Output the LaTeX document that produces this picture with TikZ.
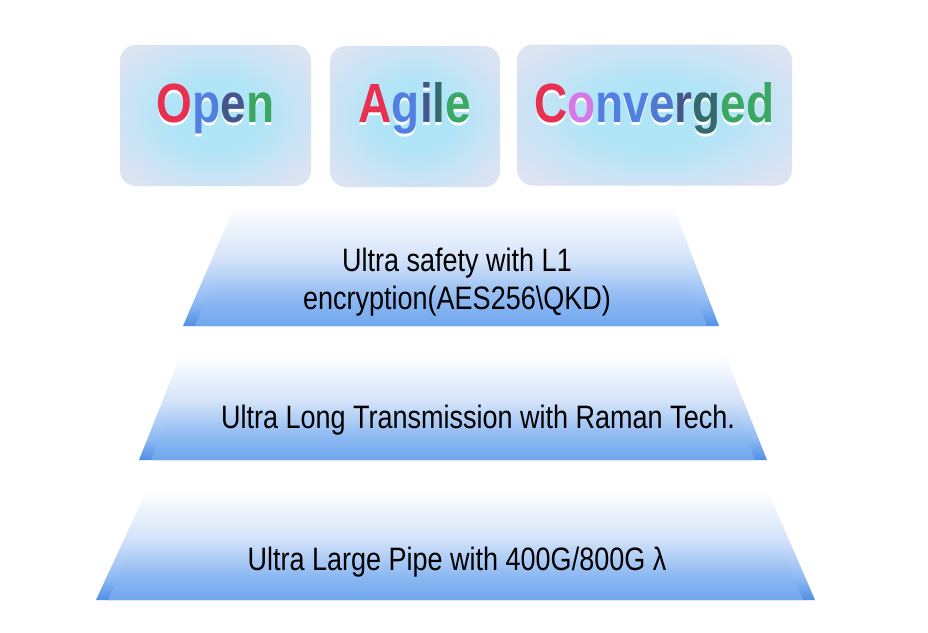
\documentclass[tikz,border=0pt]{standalone}
\usepackage{fontspec}
\setmainfont{Liberation Sans}
\definecolor{layerdark}{RGB}{80,143,230}
\definecolor{layermid}{RGB}{140,184,242}
\definecolor{layerlight}{RGB}{212,227,249}
\definecolor{layerin}{RGB}{112,167,238}
\definecolor{boxin}{RGB}{176,228,247}
\definecolor{boxout}{RGB}{220,227,243}
\definecolor{wred}{RGB}{232,48,80}
\definecolor{wpink}{RGB}{214,120,230}
\definecolor{wblue}{RGB}{82,128,226}
\definecolor{wnavy}{RGB}{68,86,140}
\definecolor{wteal}{RGB}{52,106,110}
\definecolor{wgreen}{RGB}{58,168,100}
\pgfdeclareverticalshading{layershade}{100bp}{color(0bp)=(layerdark); color(25bp)=(layerdark); color(33bp)=(layermid); color(48bp)=(layerlight); color(66bp)=(white); color(100bp)=(white)}
\pgfdeclareverticalshading{layerinner}{100bp}{color(0bp)=(layerin); color(25bp)=(layerin); color(34bp)=(layermid); color(48bp)=(layerlight); color(66bp)=(white); color(100bp)=(white)}
\pgfdeclareradialshading{boxglow}{\pgfpoint{0bp}{0bp}}{color(0bp)=(boxin); color(12bp)=(boxin); color(31bp)=(boxout); color(50bp)=(boxout)}
\newcommand{\tallbox}[1]{\scalebox{1}[1.2]{#1}}
\newcommand{\embossed}[2]{\tallbox{\rlap{\raisebox{-2.5pt}{\textcolor{white}{#1}}}#2}}
\tikzset{
  wordbox/.style={rounded corners=16pt, shading=boxglow, minimum height=141pt},
  word/.style={anchor=base, inner sep=0pt, font=\fontsize{46}{50}\selectfont\bfseries},
  layertext/.style={anchor=base, inner sep=0pt, font=\fontsize{27}{32}\selectfont},
}
\begin{document}
\begin{tikzpicture}[x=1pt, y=-1pt]
  \useasboundingbox[fill=white] (0,0) rectangle (928,632);

  % layers, bottom to top
  \shade[shading=layershade] (96,600) -- (815,600) -- (757,466) -- (158,466) -- cycle;
  \shade[shading=layerinner] (108,600) -- (803,600) -- (747,466) -- (168,466) -- cycle;

  \shade[shading=layershade] (139,460) -- (767,460) -- (716,332) -- (190,332) -- cycle;
  \shade[shading=layerinner] (151,460) -- (755,460) -- (706,332) -- (200,332) -- cycle;

  \shade[shading=layershade] (183,326) -- (719,326) -- (663,180) -- (246,180) -- cycle;
  \shade[shading=layerinner] (195,326) -- (707,326) -- (653,180) -- (256,180) -- cycle;

  \node[layertext] (safety) at (457,271) {\tallbox{\begin{tabular}[t]{@{}c@{}}Ultra safety with L1\\encryption(AES256\textbackslash QKD)\end{tabular}}};
  \node[layertext] (raman) at (478,428) {\tallbox{Ultra Long Transmission with Raman Tech.}};
  \node[layertext] (pipe) at (457,570) {\tallbox{Ultra Large Pipe with 400G/800G λ}};

  % top boxes
  \node[wordbox, minimum width=191pt] (openbox) at (215.5,115.5) {};
  \node[wordbox, minimum width=170pt] (agilebox) at (415,116.5) {};
  \node[wordbox, minimum width=275pt] (convbox) at (654.5,115) {};

  \node[word] (open) at ([yshift=-7pt]openbox.center) {\embossed{Open}{\textcolor{wred}{O}\textcolor{wblue}{p}\textcolor{wnavy}{e}\textcolor{wgreen}{n}}};
  \node[word] (agile) at ([yshift=-6pt]agilebox.center) {\embossed{Agile}{\textcolor{wred}{A}\textcolor{wblue}{g}\textcolor{wnavy}{i}\textcolor{wteal}{l}\textcolor{wgreen}{e}}};
  \node[word] (converged) at ([yshift=-7pt]convbox.center) {\embossed{Converged}{\textcolor{wred}{C}\textcolor{wpink}{o}\textcolor{wblue}{n}\textcolor{wblue}{v}\textcolor{wblue!80!wnavy}{e}\textcolor{wnavy}{r}\textcolor{wteal}{g}\textcolor{wgreen}{e}\textcolor{wgreen}{d}}};
\end{tikzpicture}
\end{document}
